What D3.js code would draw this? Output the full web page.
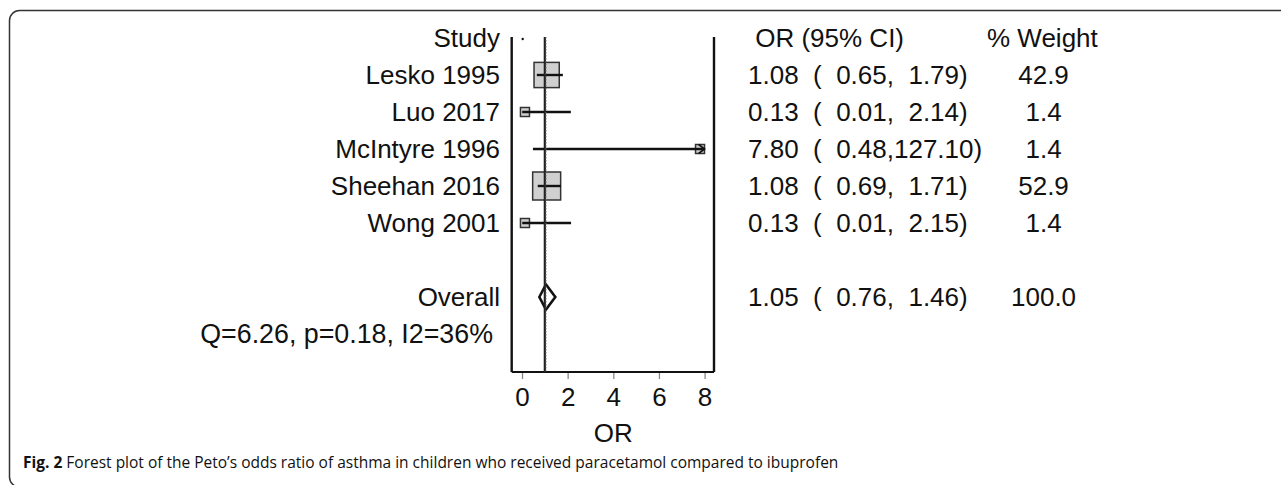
<!DOCTYPE html>
<html>
<head>
<meta charset="utf-8">
<script src="https://cdn.jsdelivr.net/npm/d3@7/dist/d3.min.js"></script>
<style>
  html, body { margin: 0; padding: 0; background: #fff; }
  svg { display: block; }
  .t { font-family: "Liberation Sans", Arial, Helvetica, sans-serif; font-size: 26px; fill: #111; white-space: pre; }
  .cap { font-family: "Open Sans", "Noto Sans", sans-serif; font-size: 15.5px; fill: #111; }
</style>
</head>
<body>
<svg id="chart" width="1281" height="485"></svg>
<script>
// ---- data ----
const studies = ["Lesko 1995", "Luo 2017", "McIntyre 1996", "Sheehan 2016", "Wong 2001"];
const orValues = [1.08, 0.13, 7.80, 1.08, 0.13];
const ciLower = [0.65, 0.01, 0.48, 0.69, 0.01];
const ciUpper = [1.79, 2.14, 127.10, 1.71, 2.15];
const weights = [42.9, 1.4, 1.4, 52.9, 1.4];
const overallLabel = "Overall";
const overallEstimate = [1.05, 0.76, 1.46];
const overallWeight = 100.0;
const heterogeneity = "Q=6.26, p=0.18, I2=36%";
const xTicks = [0, 2, 4, 6, 8];
const headers = ["Study", " OR (95% CI)", "% Weight"];
const xTitle = "OR";
const captionBold = "Fig. 2";
const captionText = " Forest plot of the Peto\u2019s odds ratio of asthma in children who received paracetamol compared to ibuprofen";

// ---- layout ----
const svg = d3.select("#chart");
const x = d3.scaleLinear().domain([0, 8]).range([522, 704.6]);
const y = d3.scaleLinear().domain([0, 8]).range([38, 334]);
const plotLeft = 511.7, plotRight = 714, plotTop = 37, plotBottom = 372;
const labelX = 500, orColX = 748, wHeadX = 987, wColX = 1011;
const fmt2 = v => v.toFixed(2);
const pad = (s, n) => s.padStart(n, " ");
const ciText = (o, l, h) => `${fmt2(o)}  (${pad(fmt2(l), 6)},${pad(fmt2(h), 6)})`;
const wText = w => pad(w.toFixed(1), 5);

// frame (rounded, open to right and bottom edges)
svg.append("rect").attr("x", 9.5).attr("y", 10.5).attr("width", 1400).attr("height", 476.5)
  .attr("rx", 10).attr("fill", "none").attr("stroke", "#333").attr("stroke-width", 1.5);

// plot vertical bounding lines
svg.append("line").attr("x1", plotLeft).attr("x2", plotLeft).attr("y1", plotTop).attr("y2", plotBottom)
  .attr("stroke", "#111").attr("stroke-width", 2.4);
svg.append("line").attr("x1", plotRight).attr("x2", plotRight).attr("y1", plotTop).attr("y2", plotBottom)
  .attr("stroke", "#111").attr("stroke-width", 2.4);

// axis
const axis = d3.axisBottom(x).tickValues(xTicks).tickSize(7).tickPadding(8).tickFormat(d3.format("d"));
const ag = svg.append("g").attr("transform", `translate(0,${plotBottom})`).call(axis);
ag.select(".domain").remove();
ag.selectAll(".tick line").attr("stroke", "#888").attr("stroke-width", 1.3);
ag.selectAll(".tick text").attr("class", "t").attr("dy", null).attr("y", 34)
  .style("font-size", "26px").attr("fill", "#111");
svg.append("line").attr("x1", plotLeft).attr("x2", plotRight).attr("y1", plotBottom).attr("y2", plotBottom)
  .attr("stroke", "#111").attr("stroke-width", 2.2);
svg.append("text").attr("class", "t").attr("x", x(4)).attr("y", 442).attr("text-anchor", "middle").text(xTitle);

// header row
svg.append("text").attr("class", "t").attr("x", labelX).attr("y", y(0) + 9).attr("text-anchor", "end").text(headers[0]);
svg.append("text").attr("class", "t").attr("x", orColX).attr("y", y(0) + 9).text(headers[1]);
svg.append("text").attr("class", "t").attr("x", wHeadX).attr("y", y(0) + 9).text(headers[2]);
svg.append("circle").attr("cx", x(0) + 0.7).attr("cy", y(0) + 1).attr("r", 1.2).attr("fill", "#111");

// studies
const boxSize = w => Math.max(9, 3.85 * Math.sqrt(w));
studies.forEach((s, i) => {
  const yy = y(i + 1);
  svg.append("text").attr("class", "t").attr("x", labelX).attr("y", yy + 9).attr("text-anchor", "end").text(s);
  svg.append("text").attr("class", "t").attr("x", orColX).attr("y", yy + 9).text(ciText(orValues[i], ciLower[i], ciUpper[i]));
  svg.append("text").attr("class", "t").attr("x", wColX).attr("y", yy + 9).text(wText(weights[i]));
  const b = boxSize(weights[i]);
  svg.append("rect").attr("x", x(orValues[i]) - b / 2).attr("y", yy - b / 2).attr("width", b).attr("height", b)
    .attr("fill", "#d0d0d0").attr("stroke", "#333").attr("stroke-width", 1.5);
  const hiClip = Math.min(ciUpper[i], 8);
  svg.append("line").attr("x1", x(ciLower[i])).attr("x2", x(hiClip)).attr("y1", yy).attr("y2", yy)
    .attr("stroke", "#111").attr("stroke-width", 2.4);
  if (ciUpper[i] > 8) {
    svg.append("path")
      .attr("d", `M${x(8) - 6},${yy - 4.5}L${x(8)},${yy}L${x(8) - 6},${yy + 4.5}`)
      .attr("fill", "none").attr("stroke", "#111").attr("stroke-width", 1.6);
  }
});

// overall
const oy = y(7);
svg.append("text").attr("class", "t").attr("x", labelX).attr("y", oy + 9).attr("text-anchor", "end").text(overallLabel);
svg.append("text").attr("class", "t").attr("x", orColX).attr("y", oy + 9).text(ciText(...overallEstimate));
svg.append("text").attr("class", "t").attr("x", wColX).attr("y", oy + 9).text(wText(overallWeight));
svg.append("path")
  .attr("d", `M${x(overallEstimate[1])},${oy}L${x(overallEstimate[0])},${oy - 12.5}L${x(overallEstimate[2])},${oy}L${x(overallEstimate[0])},${oy + 12.5}Z`)
  .attr("fill", "none").attr("stroke", "#111").attr("stroke-width", 2.6).attr("stroke-linejoin", "miter");
svg.append("text").attr("class", "t").attr("x", 493).attr("y", y(8) + 9).attr("text-anchor", "end")
  .style("font-size", "26.8px").text(heterogeneity);

// null line and overall effect line
svg.append("line").attr("x1", x(1)).attr("x2", x(1)).attr("y1", plotTop).attr("y2", plotBottom)
  .attr("stroke", "#222").attr("stroke-width", 2.2);
svg.append("line").attr("x1", x(overallEstimate[0])).attr("x2", x(overallEstimate[0])).attr("y1", plotTop).attr("y2", plotBottom)
  .attr("stroke", "#666").attr("stroke-width", 1).attr("stroke-dasharray", "1.5,1.5");

// caption
const cap = svg.append("text").attr("class", "cap").attr("x", 23).attr("y", 468);
cap.append("tspan").attr("font-weight", "bold").text(captionBold);
cap.append("tspan").text(captionText);
</script>
</body>
</html>
